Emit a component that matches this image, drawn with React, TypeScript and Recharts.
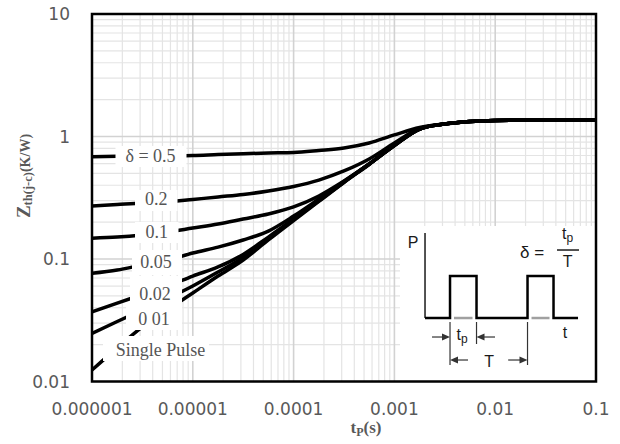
import React from 'react';
import { LineChart, Line, XAxis, YAxis, ReferenceLine, ReferenceArea } from 'recharts';

// Pulse duration tP (s)
const tP = [
  1e-6, 1.78e-6, 3.16e-6, 5.62e-6, 1e-5, 1.78e-5, 3.16e-5, 5.62e-5, 1e-4, 1.78e-4,
  3.16e-4, 5.62e-4, 1e-3, 1.78e-3, 3.16e-3, 5.62e-3, 1e-2, 3.16e-2, 1e-1,
];

// Transient thermal impedance Zth(j-c) (K/W) per duty cycle
const zthD50 = [0.684, 0.69, 0.693, 0.696, 0.7, 0.713, 0.724, 0.733, 0.74, 0.769, 0.806, 0.885, 1.03, 1.184, 1.265, 1.326, 1.351, 1.364, 1.364];
const zthD20 = [0.271, 0.279, 0.287, 0.292, 0.306, 0.321, 0.336, 0.359, 0.391, 0.441, 0.523, 0.655, 0.885, 1.162, 1.265, 1.326, 1.351, 1.364, 1.364];
const zthD10 = [0.148, 0.151, 0.157, 0.166, 0.179, 0.193, 0.212, 0.233, 0.266, 0.327, 0.433, 0.596, 0.852, 1.151, 1.265, 1.326, 1.351, 1.364, 1.364];
const zthD05 = [0.0764, 0.0813, 0.0893, 0.0972, 0.112, 0.125, 0.143, 0.169, 0.224, 0.309, 0.429, 0.596, 0.852, 1.151, 1.265, 1.326, 1.351, 1.364, 1.364];
const zthD02 = [0.0371, 0.0437, 0.0513, 0.0602, 0.0726, 0.0861, 0.109, 0.151, 0.212, 0.3, 0.425, 0.596, 0.844, 1.151, 1.265, 1.326, 1.351, 1.364, 1.364];
const zthD01 = [0.0247, 0.0309, 0.0384, 0.0476, 0.0602, 0.0783, 0.103, 0.147, 0.21, 0.298, 0.425, 0.596, 0.844, 1.151, 1.265, 1.326, 1.351, 1.364, 1.364];
const zthSingle = [0.0124, 0.0188, 0.0279, 0.0384, 0.0528, 0.0726, 0.0981, 0.143, 0.206, 0.295, 0.421, 0.591, 0.844, 1.151, 1.265, 1.326, 1.351, 1.364, 1.364];

const xTicks = [1e-6, 1e-5, 1e-4, 1e-3, 1e-2, 1e-1];
const xTickLabels = ['0.000001', '0.00001', '0.0001', '0.001', '0.01', '0.1'];
const yTicks = [0.01, 0.1, 1, 10];
const yTickLabels = ['0.01', '0.1', '1', '10'];

const xDecades = [1e-6, 1e-5, 1e-4, 1e-3, 1e-2];
const yDecades = [0.01, 0.1, 1];
const minorSteps = [2, 3, 4, 5, 6, 7, 8, 9];

const data = tP.map((t, i) => ({
  t,
  d50: zthD50[i],
  d20: zthD20[i],
  d10: zthD10[i],
  d05: zthD05[i],
  d02: zthD02[i],
  d01: zthD01[i],
  single: zthSingle[i],
}));

const seriesKeys = ['d50', 'd20', 'd10', 'd05', 'd02', 'd01', 'single'];

const xMinor = xDecades.flatMap((d) => minorSteps.map((k) => k * d));
const yMinor = yDecades.flatMap((d) => minorSteps.map((k) => k * d));
const xMajor = [1e-5, 1e-4, 1e-3, 1e-2];
const yMajor = [0.1, 1];

// Curve labels, each sitting on a white patch that interrupts the curves
const curveLabels = [
  { text: 'δ = 0.5', x1: 1.71e-6, x2: 8.66e-6, y1: 0.5637, y2: 0.8365, dx: -0.5, dy: 0 },
  { text: '0.2', x1: 2.671e-6, x2: 7.05e-6, y1: 0.2465, y2: 0.3659, dx: 0, dy: -1.5 },
  { text: '0.1', x1: 2.671e-6, x2: 7.21e-6, y1: 0.1351, y2: 0.2005, dx: 0, dy: 0 },
  { text: '0.05', x1: 2.494e-6, x2: 7.815e-6, y1: 0.074, y2: 0.1185, dx: -1, dy: 0 },
  { text: '0.02', x1: 2.382e-6, x2: 7.815e-6, y1: 0.0421, y2: 0.0726, dx: -1, dy: 3 },
  { text: '0 01', x1: 2.175e-6, x2: 7.815e-6, y1: 0.02633, y2: 0.0421, dx: 0, dy: 1.5 },
  { text: 'Single Pulse', x1: 1.286e-6, x2: 1.448e-5, y1: 0.0147, y2: 0.02351, dx: 4.5, dy: 1.5 },
];

const tickStyle = { fill: '#595959', fontSize: 17, fontFamily: 'DejaVu Sans' };

const makeCurveLabel = (text: string, dx: number, dy: number) => (props: any) => {
  const vb = props.viewBox || {};
  return (
    <text
      x={vb.x + vb.width / 2 + dx}
      y={vb.y + vb.height / 2 + dy}
      textAnchor="middle"
      dominantBaseline="central"
      fontFamily="Liberation Serif"
      fontSize={18}
      fill="#555"
    >
      {text}
    </text>
  );
};

const YTitle = (props: any) => {
  const vb = props.viewBox || { x: 0, y: 14, width: 92, height: 367.5 };
  const cx = vb.x + 30;
  const cy = vb.y + vb.height / 2 - 21.75;
  return (
    <text
      transform={`rotate(-90 ${cx} ${cy})`}
      x={cx}
      y={cy}
      textAnchor="middle"
      fontFamily="Liberation Serif"
      fontWeight="bold"
      fill="#595959"
    >
      <tspan fontSize={19}>Z</tspan>
      <tspan fontSize={12.5} dy={2}>th(j-c)</tspan>
      <tspan fontSize={14} dy={-2}>(K/W)</tspan>
    </text>
  );
};

const XTitle = (props: any) => {
  const vb = props.viewBox || { x: 92, y: 381.5, width: 504, height: 30 };
  const cx = vb.x + vb.width / 2 + 22;
  const by = vb.y + 51.5;
  return (
    <text x={cx} y={by} textAnchor="middle" fontFamily="Liberation Serif" fontWeight="bold" fill="#595959">
      <tspan fontSize={17}>t</tspan>
      <tspan fontSize={12} dy={3}>P</tspan>
      <tspan fontSize={17} dy={-3}>(s)</tspan>
    </text>
  );
};

// Duty-cycle definition sketch drawn inside its white panel
const PulseInset = (props: any) => {
  const vb = props.viewBox || { x: 400, y: 226 };
  const X = (v: number) => vb.x + v;
  const Y = (v: number) => vb.y + v;
  const sans = 'Liberation Sans';
  const ink = '#1a1a1a';
  const headRight = (tx: number, ty: number) => `M${tx},${ty} l-8,-3.5 l0,7 z`;
  const headLeft = (tx: number, ty: number) => `M${tx},${ty} l8,-3.5 l0,7 z`;
  return (
    <g>
      <text x={X(13)} y={Y(22)} textAnchor="middle" fontFamily={sans} fontSize={16} fill={ink}>P</text>
      <line x1={X(25)} y1={Y(7)} x2={X(25)} y2={Y(92)} stroke={ink} strokeWidth={1.5} />
      <path
        d={`M${X(25)},${Y(92)} H${X(50)} V${Y(50)} H${X(76.5)} V${Y(92)} H${X(127.5)} V${Y(50)} H${X(153.5)} V${Y(92)} H${X(178)}`}
        fill="none"
        stroke="#000"
        strokeWidth={2.5}
      />
      <line x1={X(54)} y1={Y(92)} x2={X(72.5)} y2={Y(92)} stroke="#a0a0a0" strokeWidth={2.5} />
      <line x1={X(131.5)} y1={Y(92)} x2={X(149.5)} y2={Y(92)} stroke="#a0a0a0" strokeWidth={2.5} />

      <text x={X(120)} y={Y(32)} fontFamily={sans} fontSize={17} fill={ink}>δ =</text>
      <text x={X(167.5)} y={Y(13)} textAnchor="middle" fontFamily={sans} fontSize={16} fill={ink}>
        <tspan>t</tspan>
        <tspan fontSize={12} dy={3}>p</tspan>
      </text>
      <line x1={X(157)} y1={Y(24)} x2={X(179)} y2={Y(24)} stroke={ink} strokeWidth={1.5} />
      <text x={X(167.5)} y={Y(41)} textAnchor="middle" fontFamily={sans} fontSize={16} fill={ink}>T</text>
      <text x={X(165)} y={Y(112)} textAnchor="middle" fontFamily={sans} fontSize={16} fill={ink}>t</text>

      <line x1={X(50)} y1={Y(96)} x2={X(50)} y2={Y(139)} stroke="#333" strokeWidth={1.2} />
      <line x1={X(76.5)} y1={Y(96)} x2={X(76.5)} y2={Y(118)} stroke="#333" strokeWidth={1.2} />
      <line x1={X(127.5)} y1={Y(96)} x2={X(127.5)} y2={Y(139)} stroke="#333" strokeWidth={1.2} />

      <line x1={X(32)} y1={Y(111)} x2={X(45)} y2={Y(111)} stroke="#333" strokeWidth={1.2} />
      <path d={headRight(X(50), Y(111))} fill="#333" />
      <line x1={X(95)} y1={Y(111)} x2={X(82)} y2={Y(111)} stroke="#333" strokeWidth={1.2} />
      <path d={headLeft(X(76.5), Y(111))} fill="#333" />
      <text x={X(56.5)} y={Y(114)} fontFamily={sans} fontSize={16} fill={ink}>
        <tspan>t</tspan>
        <tspan fontSize={12} dy={3}>p</tspan>
      </text>

      <line x1={X(55)} y1={Y(134)} x2={X(68)} y2={Y(134)} stroke="#333" strokeWidth={1.2} />
      <path d={headLeft(X(50), Y(134))} fill="#333" />
      <line x1={X(108)} y1={Y(134)} x2={X(122)} y2={Y(134)} stroke="#333" strokeWidth={1.2} />
      <path d={headRight(X(127.5), Y(134))} fill="#333" />
      <text x={X(89)} y={Y(141)} textAnchor="middle" fontFamily={sans} fontSize={16} fill={ink}>T</text>
    </g>
  );
};

export default function App() {
  return (
    <div style={{ position: 'absolute', left: 0, top: 0, width: 620, height: 444, background: '#fff' }}>
      <LineChart width={620} height={444} data={data} margin={{ top: 14, right: 24, bottom: 32.5, left: 0 }}>
        <XAxis
          dataKey="t"
          type="number"
          scale="log"
          domain={[1e-6, 0.1]}
          allowDataOverflow
          ticks={xTicks}
          interval={0}
          tickFormatter={(v: number) => xTickLabels[xTicks.indexOf(v)] ?? String(v)}
          axisLine={false}
          tickLine={false}
          tickSize={6}
          tickMargin={15}
          height={30}
          tick={tickStyle}
          label={{ content: XTitle }}
        />
        <YAxis
          type="number"
          scale="log"
          domain={[0.01, 10]}
          allowDataOverflow
          ticks={yTicks}
          interval={0}
          tickFormatter={(v: number) => yTickLabels[yTicks.indexOf(v)] ?? String(v)}
          axisLine={false}
          tickLine={false}
          tickSize={6}
          tickMargin={16}
          width={92}
          tick={tickStyle}
          label={{ content: YTitle }}
        />

        {xMinor.map((v) => (
          <ReferenceLine key={`xm${v}`} x={v} stroke="#e4e4e4" strokeWidth={1.2} zIndex={-90} />
        ))}
        {yMinor.map((v) => (
          <ReferenceLine key={`ym${v}`} y={v} stroke="#e4e4e4" strokeWidth={1.2} zIndex={-90} />
        ))}
        {xMajor.map((v) => (
          <ReferenceLine key={`xM${v}`} x={v} stroke="#d2d2d2" strokeWidth={1.6} zIndex={-80} />
        ))}
        {yMajor.map((v) => (
          <ReferenceLine key={`yM${v}`} y={v} stroke="#d2d2d2" strokeWidth={1.6} zIndex={-80} />
        ))}

        {seriesKeys.map((k) => (
          <Line
            key={k}
            dataKey={k}
            type="monotone"
            stroke="#000"
            strokeWidth={3.5}
            dot={false}
            activeDot={false}
            isAnimationActive={false}
          />
        ))}

        {curveLabels.map((l) => (
          <ReferenceArea
            key={l.text}
            x1={l.x1}
            x2={l.x2}
            y1={l.y1}
            y2={l.y2}
            fill="#fff"
            fillOpacity={1}
            stroke="none"
            zIndex={450}
            label={makeCurveLabel(l.text, l.dx, l.dy)}
          />
        ))}

        <ReferenceArea
          x1={1.137e-3}
          x2={0.1}
          y1={0.01}
          y2={0.1859}
          fill="#fff"
          fillOpacity={1}
          stroke="none"
          zIndex={450}
          label={PulseInset}
        />

        <ReferenceArea
          x1={1e-6}
          x2={0.1}
          y1={0.01}
          y2={10}
          fill="none"
          stroke="#000"
          strokeWidth={2.5}
          zIndex={500}
        />
      </LineChart>
    </div>
  );
}
